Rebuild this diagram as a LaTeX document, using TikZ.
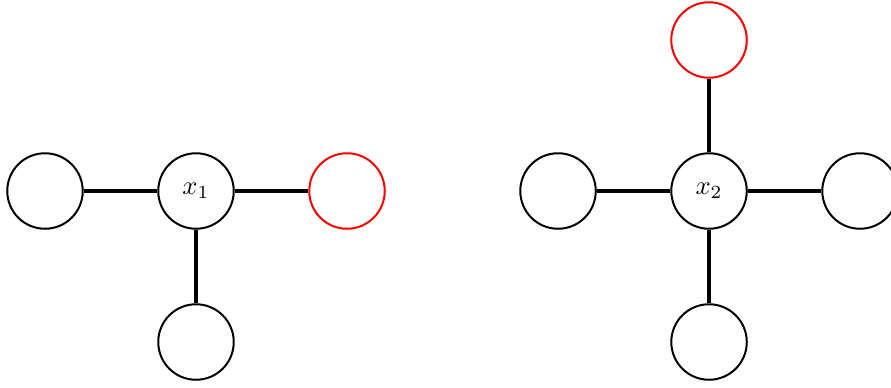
\documentclass[tikz,border=0pt]{standalone}
\begin{document}
\begin{tikzpicture}[
  vert/.style={circle, draw, line width=0.75pt, minimum size=1cm, inner sep=0pt},
  hl/.style={vert, draw=red},
  bond/.style={line width=1.8pt}
]
\useasboundingbox (-2.596,-2.596) rectangle (9.205,2.530);
% left star around x_1
\node[vert] (x1) at (0,0) {$x_1$};
\node[vert] (l1) at (-2,0) {};
\node[hl]   (r1) at (2,0) {};
\node[vert] (b1) at (0,-2) {};
\draw[bond] (x1) -- (l1);
\draw[bond] (x1) -- (r1);
\draw[bond] (x1) -- (b1);
% right star around x_2
\node[vert] (x2) at (6.795,0) {$x_2$};
\node[vert] (l2) at (4.795,0) {};
\node[vert] (r2) at (8.795,0) {};
\node[vert] (b2) at (6.795,-2) {};
\node[hl]   (t2) at (6.795,2) {};
\draw[bond] (x2) -- (l2);
\draw[bond] (x2) -- (r2);
\draw[bond] (x2) -- (b2);
\draw[bond] (x2) -- (t2);
\end{tikzpicture}
\end{document}
